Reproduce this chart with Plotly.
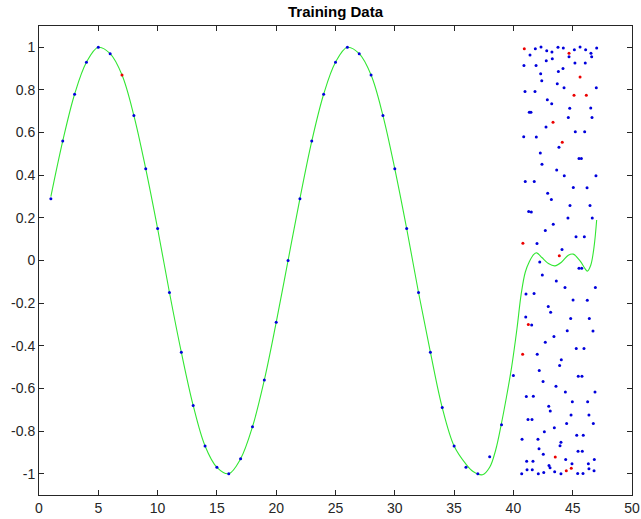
import plotly.graph_objects as go

# ---- training samples (blue dots along the sine) ----
train_x = [1, 2, 3, 4, 5, 6, 8, 9, 10, 11, 12, 13, 14, 15, 16, 17, 18, 19, 20,
           21, 22, 23, 24, 25, 26, 27, 28, 29, 30, 31, 32, 33, 34, 35, 36, 37, 38, 39, 40]
train_y = [0.29, 0.56, 0.78, 0.93, 1.00, 0.97, 0.68, 0.43, 0.15, -0.15, -0.43, -0.68,
           -0.87, -0.97, -1.00, -0.93, -0.78, -0.56, -0.29, 0.00, 0.29, 0.56, 0.78, 0.93,
           1.00, 0.97, 0.87, 0.68, 0.43, 0.15, -0.15, -0.43, -0.69, -0.87, -0.97, -1.00,
           -0.92, -0.77, -0.54]

# ---- scattered blue samples (x 41..47) ----
blue_x = [41.85, 42.33, 42.81, 43.25, 43.76, 44.21, 44.69, 45.14, 45.62, 46.09, 46.54, 46.60,
          47.02, 41.40, 40.89, 41.91, 42.77, 43.28, 44.18, 43.79, 45.19, 46.06, 42.30, 42.39,
          43.70, 44.27, 46.99, 40.98, 41.82, 42.86, 43.23, 44.75, 46.52, 41.34, 41.48, 44.63,
          46.63, 42.75, 45.22, 46.01, 40.87, 41.93, 43.84,
          42.27, 45.53, 45.73, 42.41, 43.65, 44.29, 46.96, 41.00, 41.76, 45.05, 46.21, 42.89,
          43.20, 44.77, 46.46, 41.29, 41.51, 44.60, 46.65, 43.36, 42.69, 45.28, 45.98, 41.99,
          44.10,
          42.22, 45.53, 45.76, 42.44, 43.62, 44.35, 46.91, 41.06, 41.74, 45.03, 46.23, 42.94,
          43.14, 41.04, 44.83, 46.40, 41.54, 44.54, 46.71, 43.42, 42.69, 45.30, 45.95, 42.01,
          44.04, 43.90, 42.18,
          45.47, 45.78, 42.50, 43.59, 44.38, 46.88, 41.09, 41.68, 44.97, 46.26, 42.98, 43.11,
          44.86, 46.37, 41.23, 41.57, 44.49, 46.74, 43.45, 42.61, 45.34, 45.89, 40.73, 42.07,
          44.01, 43.93, 42.16, 45.45, 45.81, 42.52, 44.41, 46.82, 41.12, 41.65, 44.94, 46.32,
          43.00, 43.09, 46.37, 41.15, 41.59, 46.80, 43.48, 42.56, 40.70, 42.10, 44.01, 45.42,
          45.87]
blue_y = [0.993, 1.001, 0.984, 0.978, 1.000, 0.997, 0.956, 0.989, 1.001, 0.989, 0.972, 0.956,
          0.997, 0.964, 0.915, 0.915, 0.937, 0.946, 0.901, 0.887, 0.926, 0.926, 0.876, 0.843,
          0.829, 0.810, 0.810, 0.793, 0.793, 0.754, 0.735, 0.714, 0.715, 0.696, 0.695, 0.671,
          0.671, 0.626, 0.604, 0.604, 0.580, 0.579, 0.531,
          0.504, 0.479, 0.479, 0.451, 0.424, 0.397, 0.397, 0.371, 0.371, 0.343, 0.341, 0.315,
          0.286, 0.258, 0.258, 0.230, 0.228, 0.199, 0.199, 0.170, 0.141, 0.111, 0.111, 0.080,
          0.052,
          -0.007, -0.036, -0.036, -0.068, -0.096, -0.127, -0.127, -0.157, -0.155, -0.185, -0.186, -0.216,
          -0.243, -0.265, -0.272, -0.272, -0.302, -0.329, -0.331, -0.357, -0.384, -0.413, -0.413, -0.440,
          -0.465, -0.493, -0.516,
          -0.543, -0.543, -0.568, -0.590, -0.617, -0.617, -0.638, -0.637, -0.662, -0.662, -0.684, -0.706,
          -0.725, -0.725, -0.746, -0.746, -0.765, -0.765, -0.784, -0.803, -0.820, -0.820, -0.838, -0.838,
          -0.853, -0.869, -0.883, -0.895, -0.895, -0.909, -0.933, -0.933, -0.942, -0.942, -0.953, -0.953,
          -0.962, -0.972, -0.977, -0.981, -0.981, -0.986, -0.991, -0.995, -1.000, -1.000, -1.000, -0.999,
          -0.999]

# ---- red samples ----
red_x = [7, 40.92, 44.69, 45.62, 45.11, 46.15, 43.34, 44.12, 40.80, 43.87, 41.26, 40.78,
         43.53, 44.88, 44.46]
red_y = [0.87, 0.993, 0.972, 0.861, 0.775, 0.775, 0.649, 0.555, 0.081, 0.022, -0.300, -0.440,
         -0.922, -0.975, -0.986]

# ---- fitted / predicted curve (green) ----
curve_x = [1, 2, 3, 4, 5, 6, 7, 8, 9, 10, 11, 12, 13, 14, 15, 16, 17, 18, 19, 20, 21, 22,
           23, 24, 25, 26, 27, 28, 29, 30, 31, 32, 33, 34, 35, 36, 36.6, 37.4, 38.0, 38.5,
           39.0, 39.4, 39.85, 40.3, 40.65, 41.0, 41.35, 41.7, 41.96, 42.4, 42.95, 43.5, 44.07,
           44.63, 45.05, 45.62, 46.04, 46.23, 46.52, 46.8, 47.02]
curve_y = [0.30, 0.56, 0.78, 0.93, 1.00, 0.97, 0.87, 0.68, 0.43, 0.15, -0.15, -0.43, -0.68,
           -0.87, -0.97, -1.00, -0.93, -0.78, -0.56, -0.29, 0.00, 0.29, 0.56, 0.78, 0.93, 1.00,
           0.97, 0.87, 0.68, 0.43, 0.15, -0.15, -0.43, -0.69, -0.87, -0.955, -0.99, -1.005,
           -0.97, -0.89, -0.762, -0.645, -0.50, -0.32, -0.16, -0.055, -0.005, 0.028, 0.036,
           0.014, -0.014, -0.025, -0.007, 0.025, 0.030, -0.002, -0.038, -0.050, -0.022, 0.064,
           0.19]

x_ticks = [0, 5, 10, 15, 20, 25, 30, 35, 40, 45, 50]
y_ticks = [-1, -0.8, -0.6, -0.4, -0.2, 0, 0.2, 0.4, 0.6, 0.8, 1]
y_tick_text = ["-1", "-0.8", "-0.6", "-0.4", "-0.2", "0", "0.2", "0.4", "0.6", "0.8", "1"]

fig = go.Figure()
fig.add_trace(go.Scatter(x=curve_x, y=curve_y, mode="lines",
                         line=dict(color="rgb(50,230,50)", width=1.1, shape="spline", smoothing=1),
                         hoverinfo="skip", showlegend=False))
fig.add_trace(go.Scatter(x=train_x, y=train_y, mode="markers",
                         marker=dict(color="rgb(0,0,220)", size=3, line=dict(width=0)),
                         showlegend=False))
fig.add_trace(go.Scatter(x=blue_x, y=blue_y, mode="markers",
                         marker=dict(color="rgb(0,0,220)", size=3, line=dict(width=0)),
                         showlegend=False))
fig.add_trace(go.Scatter(x=red_x, y=red_y, mode="markers",
                         marker=dict(color="rgb(235,0,0)", size=3, line=dict(width=0)),
                         showlegend=False))

axis_common = dict(showline=True, linecolor="rgb(38,38,38)", linewidth=1, mirror="ticks",
                   ticks="inside", ticklen=5, tickcolor="rgb(38,38,38)", tickwidth=1,
                   showgrid=False, zeroline=False, automargin=False,
                   tickfont=dict(family="Liberation Sans, Arial, sans-serif", size=14,
                                 color="rgb(38,38,38)"))

fig.update_layout(
    width=641, height=519,
    margin=dict(l=39, r=9, t=26, b=24),
    paper_bgcolor="white", plot_bgcolor="white",
    title=dict(text="<b>Training Data</b>", x=0.5, xref="paper", xanchor="center",
               y=1 - 12 / 519, yref="container", yanchor="middle", automargin=False,
               font=dict(family="Liberation Sans, Arial, sans-serif", size=15, color="black")),
    xaxis=dict(range=[0, 50], tickvals=x_ticks, **axis_common),
    yaxis=dict(range=[-1.1, 1.1], tickvals=y_ticks, ticktext=y_tick_text, **axis_common),
)

fig.write_html("out.html", config={"displayModeBar": False},
               post_script="document.body.style.margin='0';document.body.style.padding='0';")
